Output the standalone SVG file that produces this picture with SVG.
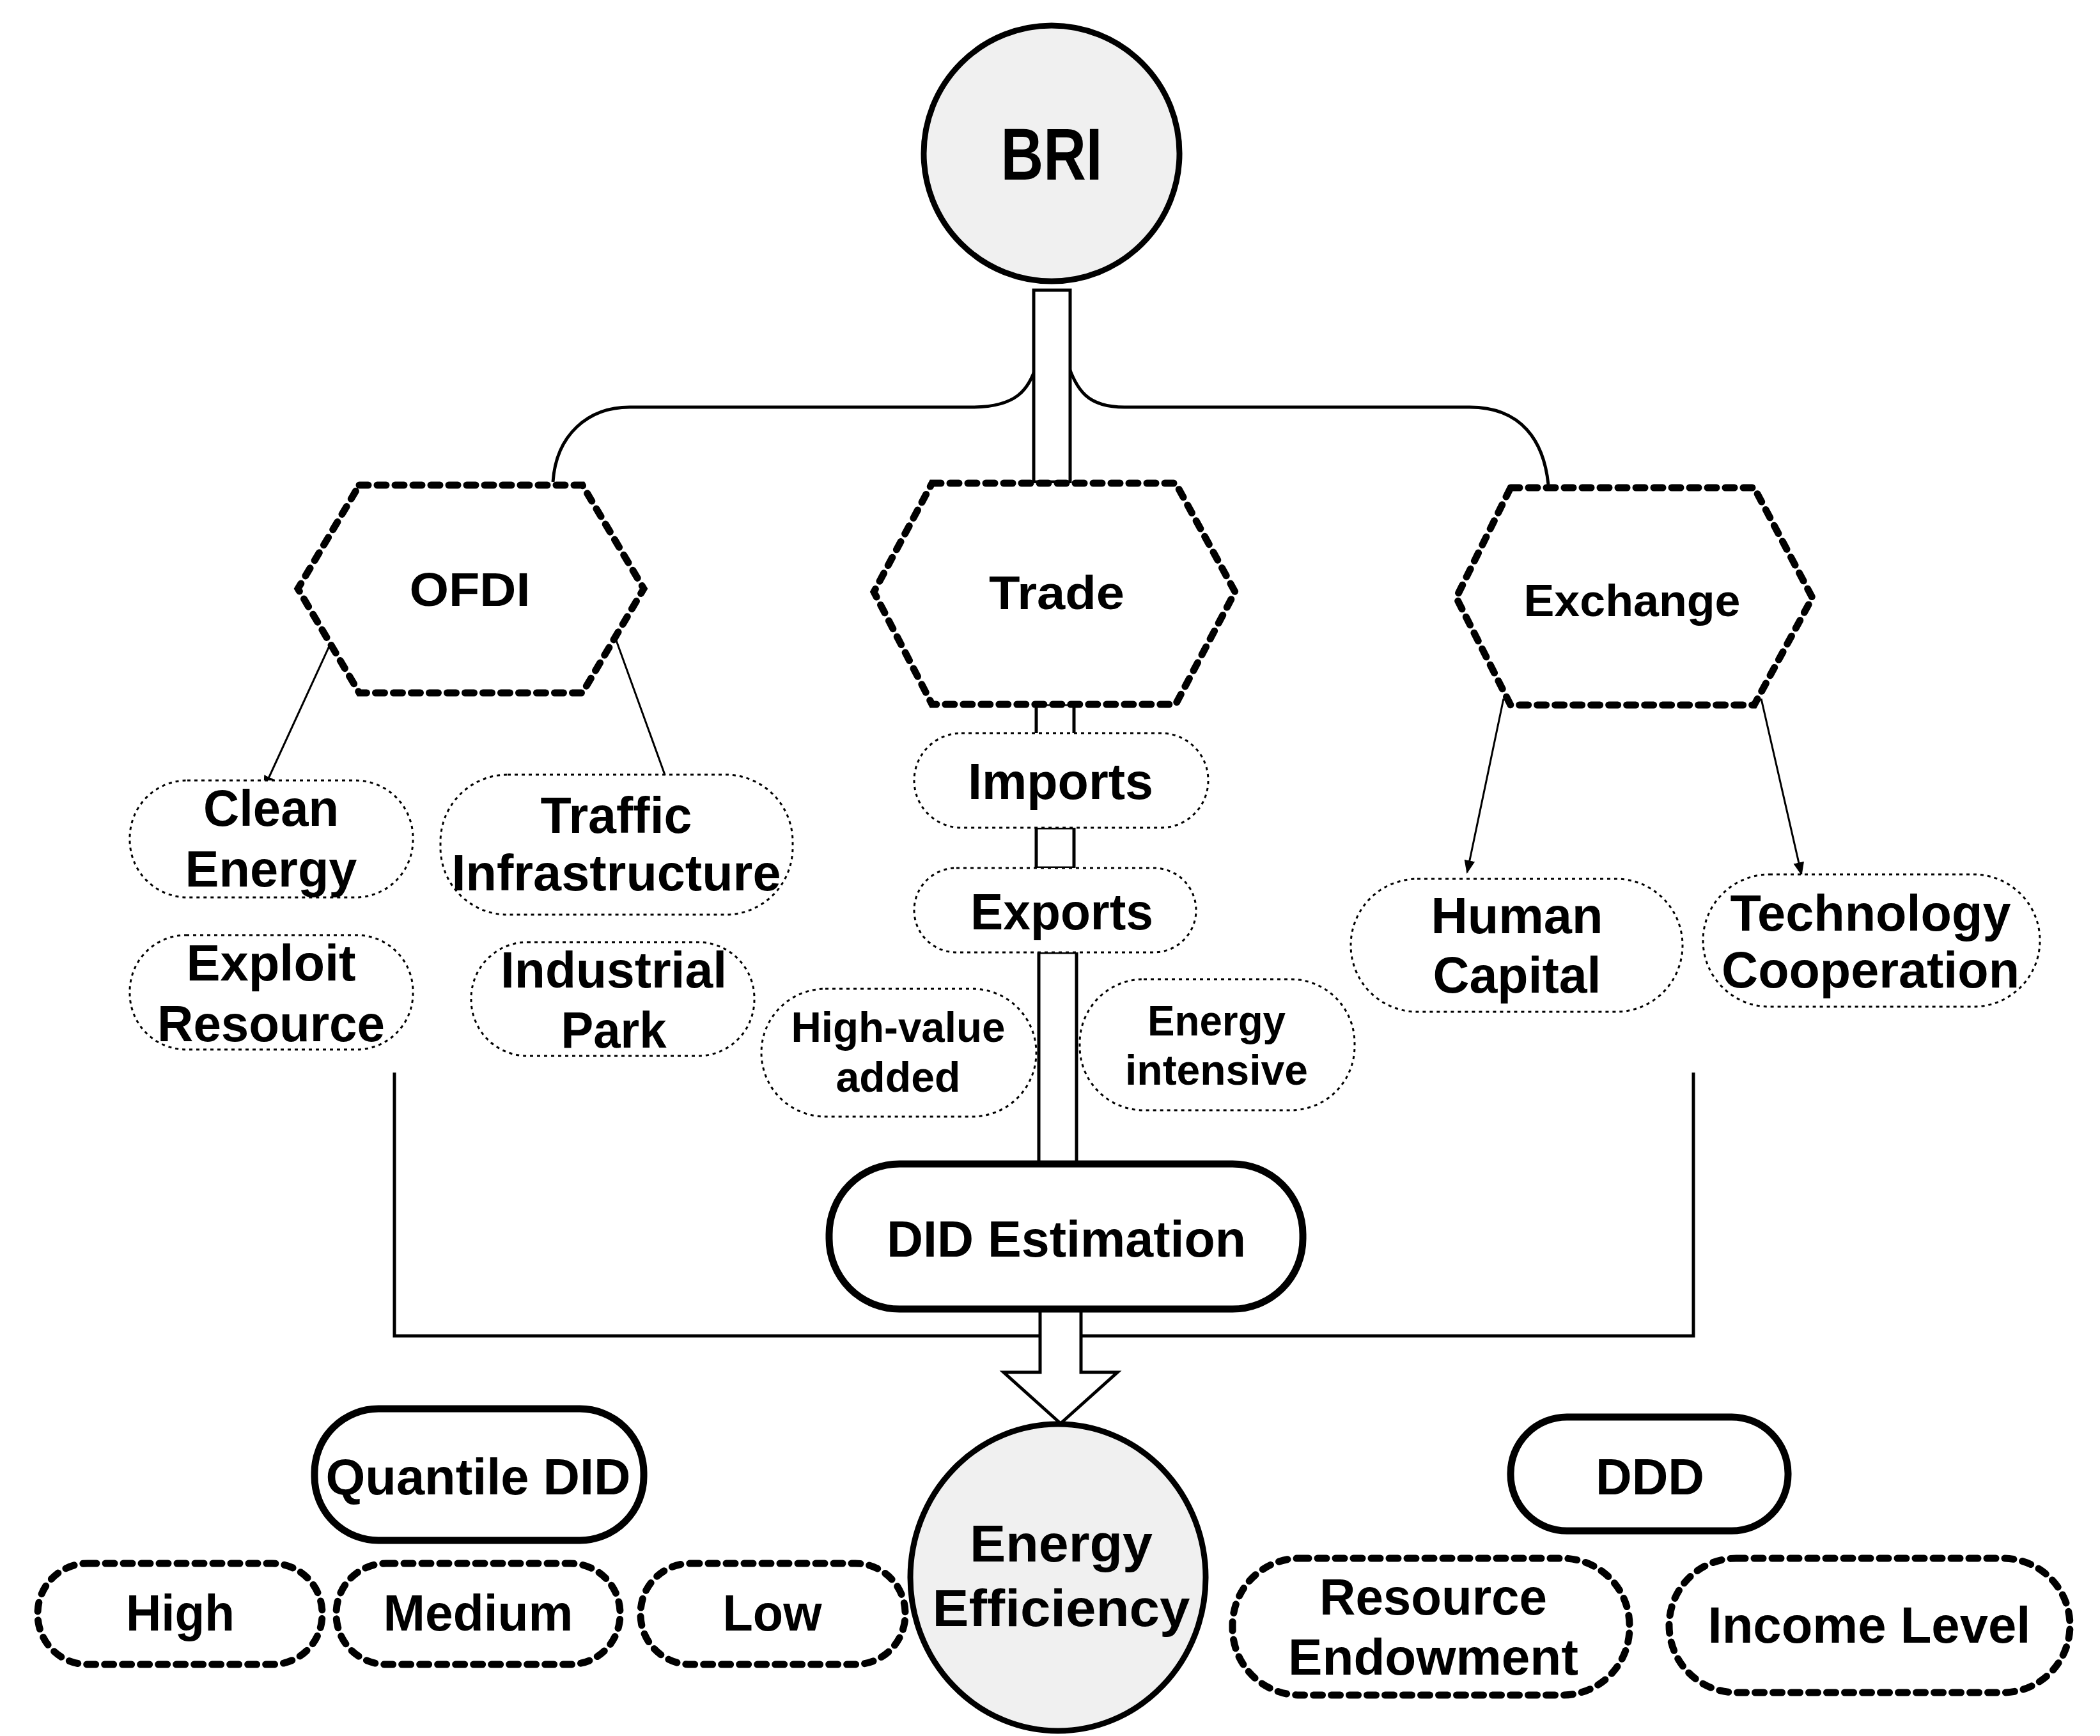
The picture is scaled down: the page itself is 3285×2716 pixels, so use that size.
<svg xmlns="http://www.w3.org/2000/svg" width="3285" height="2716" viewBox="0 0 3285 2716">
<style>
text{font-family:"Liberation Sans",Arial,sans-serif;font-weight:bold;fill:#000;text-anchor:middle}
.hex{fill:#fff;stroke:#000;stroke-width:11;stroke-dasharray:14 14;stroke-linecap:round}
.dot{fill:#fff;stroke:#000;stroke-width:3;stroke-dasharray:5 6}
.thk{fill:#fff;stroke:#000;stroke-width:11;stroke-dasharray:14 14;stroke-linecap:round}
.solid{fill:#fff;stroke:#000;stroke-width:11}
.ell{fill:#f0f0f0;stroke:#000;stroke-width:9}
.ln{fill:none;stroke:#000;stroke-width:5}
.bar{fill:#fff;stroke:#000;stroke-width:5}
.ar{fill:none;stroke:#000;stroke-width:3;marker-end:url(#ah)}
</style>
<defs>
<marker id="ah" viewBox="0 0 10 10" refX="9" refY="5" markerWidth="7" markerHeight="7" orient="auto"><path d="M0,1 L10,5 L0,9 z" fill="#000"/></marker>
</defs>
<rect width="3285" height="2716" fill="#fff"/>
<g id="connectors">
<path class="ln" d="M1622,569 C1610,610 1590,637 1520,637 L985,637 C920,637 870,680 865,754"/>
<path class="ln" d="M1670,569 C1685,610 1700,637 1759,637 L2299,637 C2380,637 2415,690 2422,758"/>
<rect class="bar" x="1617" y="454" width="57" height="300"/>
<rect class="bar" x="1621" y="1102" width="59" height="52"/>
<rect class="bar" x="1621" y="1295" width="59" height="63"/>
<rect class="bar" x="1625" y="1490" width="59" height="331"/>
<path class="ar" d="M515,1011 L413,1233"/>
<path class="ar" d="M964,1002 L1049,1237"/>
<path class="ar" d="M2352,1093 L2295,1365"/>
<path class="ar" d="M2755,1093 L2818,1368"/>
<path class="ln" d="M617,1678 L617,2090 L2649,2090 L2649,1678"/>
<path class="bar" d="M1627,2048 L1691,2048 L1691,2147 L1748,2147 L1659,2227 L1570,2147 L1627,2147 Z"/>
</g>
<g id="bri"><circle class="ell" cx="1645" cy="240" r="200"/><text x="1645" y="281" font-size="115" textLength="159" lengthAdjust="spacingAndGlyphs">BRI</text></g>
<g id="ofdi"><polygon class="hex" points="562,759 911,759 1007,921 911,1084 562,1084 466,921"/><text x="735" y="948" font-size="75" textLength="189" lengthAdjust="spacingAndGlyphs">OFDI</text></g>
<g id="trade"><polygon class="hex" points="1458,756 1839,756 1932,926 1839,1102 1458,1102 1367,926"/><text x="1653" y="953" font-size="75" textLength="212" lengthAdjust="spacingAndGlyphs">Trade</text></g>
<g id="exchange"><polygon class="hex" points="2363,763 2744,763 2835,935 2744,1103 2363,1103 2278,935"/><text x="2553" y="964" font-size="70" textLength="339" lengthAdjust="spacingAndGlyphs">Exchange</text></g>
<g id="clean"><rect class="dot" x="203" y="1221" width="443" height="183" rx="90"/><text x="424" y="1292" font-size="80" textLength="212" lengthAdjust="spacingAndGlyphs">Clean</text><text x="424" y="1387" font-size="80" textLength="269" lengthAdjust="spacingAndGlyphs">Energy</text></g>
<g id="traffic"><rect class="dot" x="689" y="1212" width="551" height="219" rx="105"/><text x="964" y="1303" font-size="80" textLength="237" lengthAdjust="spacingAndGlyphs">Traffic</text><text x="964" y="1393" font-size="80" textLength="515" lengthAdjust="spacingAndGlyphs">Infrastructure</text></g>
<g id="exploit"><rect class="dot" x="203" y="1463" width="443" height="179" rx="88"/><text x="424" y="1534" font-size="80" textLength="265" lengthAdjust="spacingAndGlyphs">Exploit</text><text x="424" y="1629" font-size="80" textLength="356" lengthAdjust="spacingAndGlyphs">Resource</text></g>
<g id="industrial"><rect class="dot" x="737" y="1474" width="443" height="178" rx="88"/><text x="960" y="1545" font-size="80" textLength="354" lengthAdjust="spacingAndGlyphs">Industrial</text><text x="960" y="1639" font-size="80" textLength="165" lengthAdjust="spacingAndGlyphs">Park</text></g>
<g id="imports"><rect class="dot" x="1430" y="1147" width="460" height="148" rx="74"/><text x="1659" y="1250" font-size="80" textLength="290" lengthAdjust="spacingAndGlyphs">Imports</text></g>
<g id="exports"><rect class="dot" x="1430" y="1358" width="441" height="132" rx="66"/><text x="1661" y="1454" font-size="80" textLength="286" lengthAdjust="spacingAndGlyphs">Exports</text></g>
<g id="highvalue"><rect class="dot" x="1191" y="1547" width="430" height="200" rx="100"/><text x="1405" y="1630" font-size="66" textLength="335" lengthAdjust="spacingAndGlyphs">High-value</text><text x="1405" y="1708" font-size="66" textLength="195" lengthAdjust="spacingAndGlyphs">added</text></g>
<g id="energyint"><rect class="dot" x="1689" y="1532" width="430" height="205" rx="100"/><text x="1903" y="1620" font-size="66" textLength="216" lengthAdjust="spacingAndGlyphs">Energy</text><text x="1903" y="1697" font-size="66" textLength="286" lengthAdjust="spacingAndGlyphs">intensive</text></g>
<g id="human"><rect class="dot" x="2113" y="1375" width="519" height="208" rx="104"/><text x="2373" y="1460" font-size="80" textLength="269" lengthAdjust="spacingAndGlyphs">Human</text><text x="2373" y="1553" font-size="80" textLength="263" lengthAdjust="spacingAndGlyphs">Capital</text></g>
<g id="tech"><rect class="dot" x="2664" y="1368" width="527" height="207" rx="104"/><text x="2926" y="1456" font-size="80" textLength="439" lengthAdjust="spacingAndGlyphs">Technology</text><text x="2926" y="1545" font-size="80" textLength="466" lengthAdjust="spacingAndGlyphs">Cooperation</text></g>
<g id="did"><rect class="solid" x="1297" y="1821" width="741" height="227" rx="110"/><text x="1668" y="1966" font-size="80" textLength="562" lengthAdjust="spacingAndGlyphs">DID Estimation</text></g>
<g id="ee"><ellipse class="ell" cx="1655" cy="2468" rx="231" ry="240"/><text x="1660" y="2443" font-size="82" textLength="286" lengthAdjust="spacingAndGlyphs">Energy</text><text x="1660" y="2544" font-size="82" textLength="403" lengthAdjust="spacingAndGlyphs">Efficiency</text></g>
<g id="quantile"><rect class="solid" x="492" y="2204" width="515" height="206" rx="100"/><text x="748" y="2338" font-size="80" textLength="477" lengthAdjust="spacingAndGlyphs">Quantile DID</text></g>
<g id="ddd"><rect class="solid" x="2363" y="2217" width="434" height="178" rx="88"/><text x="2581" y="2338" font-size="80" textLength="170" lengthAdjust="spacingAndGlyphs">DDD</text></g>
<g id="high"><rect class="thk" x="59" y="2446" width="445" height="158" rx="78"/><text x="282" y="2551" font-size="80" textLength="170" lengthAdjust="spacingAndGlyphs">High</text></g>
<g id="medium"><rect class="thk" x="526" y="2446" width="444" height="158" rx="78"/><text x="748" y="2551" font-size="80" textLength="297" lengthAdjust="spacingAndGlyphs">Medium</text></g>
<g id="low"><rect class="thk" x="1002" y="2446" width="414" height="158" rx="78"/><text x="1208" y="2551" font-size="80" textLength="155" lengthAdjust="spacingAndGlyphs">Low</text></g>
<g id="resource"><rect class="thk" x="1928" y="2438" width="621" height="214" rx="105"/><text x="2242" y="2526" font-size="80" textLength="356" lengthAdjust="spacingAndGlyphs">Resource</text><text x="2242" y="2620" font-size="80" textLength="454" lengthAdjust="spacingAndGlyphs">Endowment</text></g>
<g id="income"><rect class="thk" x="2611" y="2438" width="627" height="210" rx="105"/><text x="2924" y="2570" font-size="80" textLength="505" lengthAdjust="spacingAndGlyphs">Income Level</text></g>
</svg>
